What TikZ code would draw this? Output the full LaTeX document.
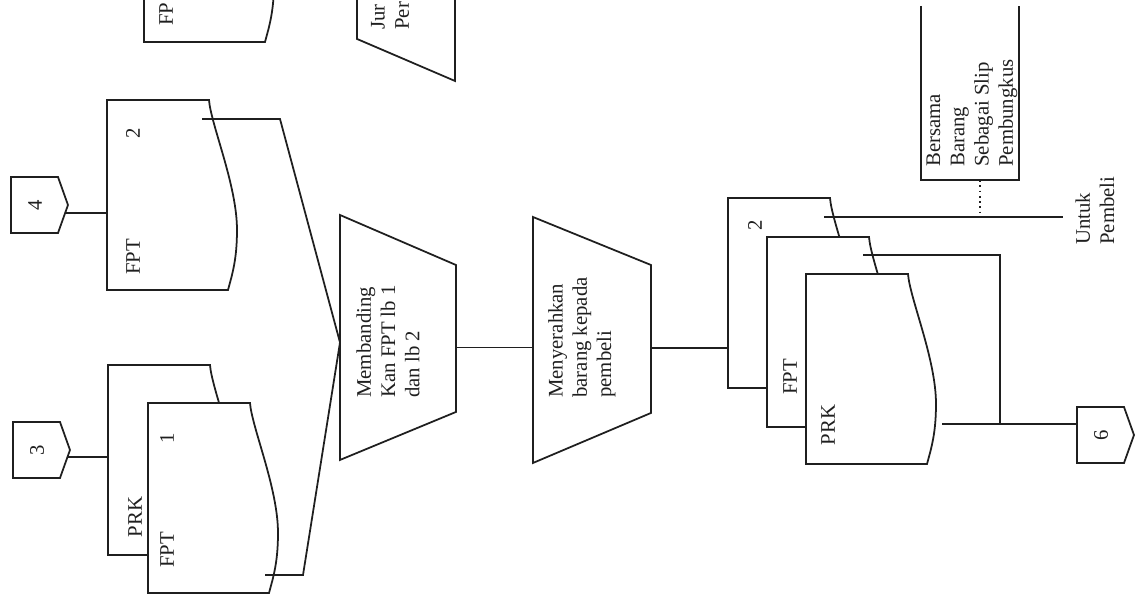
\documentclass[tikz,border=0pt]{standalone}
\usepackage{fontspec}
\setmainfont{Liberation Serif}
\usetikzlibrary{calc}

\definecolor{ink}{gray}{0.12}

% document symbol with its wavy edge on the right
\newcommand\docsym[3]{%
  \node[frame, minimum width=2.6cm, minimum height=3.8cm, anchor=north west] (#1) at (#2,#3) {};
  \draw[line, fill=white] (#1.north west) -- ($(#1.north west)+(102,0)$)
    .. controls ($(#1.north west)+(104,25)$) and ($(#1.north west)+(130,85)$) .. ($(#1.north west)+(130,130)$)
    .. controls ($(#1.north west)+(130,160)$) and ($(#1.north west)+(125,175)$) .. ($(#1.north west)+(121,190)$)
    -- (#1.south west) -- cycle;}

% off-page connector pointing right
\newcommand\offpage[4]{%
  \node[frame, minimum width=1.14cm, minimum height=1.12cm, anchor=north west] (#1) at (#2,#3) {};
  \draw[line] (#1.north west) -- ($(#1.north west)+(47,0)$) -- (#1.east)
    -- ($(#1.south west)+(47,0)$) -- (#1.south west) -- cycle;
  \node[lbl] (#1-t) at ($(#1.west)+(24,0)$) {#4};}

% manual operation, long side on the left
\newcommand\manop[3]{%
  \draw[line] (#1.north west) -- ($(#1.north east)+(0,#2)$) -- ($(#1.south east)+(0,-#3)$)
    -- (#1.south west) -- cycle;}

\begin{document}
\begin{tikzpicture}[x=0.02cm, y=-0.02cm,
  line/.style={draw=ink, line width=1pt},
  frame/.style={inner sep=0pt, outer sep=0pt, draw=none},
  lbl/.style={rotate=90, inner sep=0pt, text=ink, font=\fontsize{11.8}{13.8}\selectfont},
  blk/.style={lbl, align=left, anchor=west}]

\useasboundingbox (0,0) rectangle (1140,598);
\clip (0,0) rectangle (1140,598);
\fill[white] (0,0) rectangle (1140,598);

% ---- top row, partly outside ----
\docsym{dtop}{144}{-148}
\node[lbl, anchor=west] (dtop-t) at (166,26) {FP};
\node[frame, minimum width=1.96cm, minimum height=4.62cm, anchor=north west] (jt) at (357,-150) {};
\draw[line] ($(jt.north west)+(0,42)$) -- ($(jt.south west)+(0,-42)$) -- (jt.south east) -- (jt.north east) -- cycle;
\node[blk] (jt-t) at (390,30) {Jur\\Per};

% ---- inputs ----
\offpage{p4}{11}{177}{4}
\offpage{p3}{13}{422}{3}

\docsym{dFPTb}{107}{100}
\node[lbl] (dFPTb-n) at ($(dFPTb.north west)+(26,33)$) {2};
\node[lbl] (dFPTb-t) at ($(dFPTb.north west)+(26,157)$) {FPT};

\docsym{dPRKa}{108}{365}
\node[lbl] (dPRKa-t) at ($(dPRKa.north west)+(27,152)$) {PRK};
\docsym{dFPTa}{148}{403}
\node[lbl] (dFPTa-n) at ($(dFPTa.north west)+(19,35)$) {1};
\node[lbl] (dFPTa-t) at ($(dFPTa.north west)+(19,147)$) {FPT};

% ---- processes ----
\node[frame, minimum width=2.32cm, minimum height=4.9cm, anchor=north west] (t1) at (340,215) {};
\manop{t1}{50}{48}
\node[blk] (t1-t) at (388,398) {Membanding\\Kan FPT lb 1\\dan lb 2};

\node[frame, minimum width=2.36cm, minimum height=4.92cm, anchor=north west] (t2) at (533,217) {};
\manop{t2}{48}{50}
\node[blk] (t2-t) at (582,398) {Menyerahkan\\barang kepada\\pembeli};

% ---- output stack ----
\docsym{s2}{728}{198}
\node[lbl] (s2-n) at ($(s2.north west)+(27,27)$) {2};
\docsym{sFPT}{767}{237}
\node[lbl] (sFPT-t) at ($(sFPT.north west)+(23,140)$) {FPT};
\docsym{sPRK}{806}{274}
\node[lbl] (sPRK-t) at ($(sPRK.north west)+(22,151)$) {PRK};

\offpage{p6}{1077}{407}{6}

% annotation bracket
\node[frame, minimum width=1.96cm, minimum height=3.48cm, anchor=north west] (note) at (921,6) {};
\draw[line] (note.north west) -- (note.south west) -- (note.south east) -- (note.north east);
\node[blk] (note-t) at (972,167) {Bersama\\Barang\\Sebagai Slip\\Pembungkus};

\node[blk] (untuk) at (1095,245) {Untuk\\Pembeli};

% ---- connectors ----
\coordinate (p4o) at ($(p4.east)+(-3,8)$);
\draw[line] (p4o) -- (p4o -| dFPTb.west);
\coordinate (p3o) at ($(p3.east)+(-3,7)$);
\draw[line] (p3o) -- (p3o -| dPRKa.west);

\coordinate (t1in) at ($(t1.west)+(0,5)$);
\draw[line] ($(dFPTb.north west)+(95,19)$) -- ++(78,0) -- (t1in);
\draw[line] ($(dFPTa.north west)+(117,172)$) -- ++(38,0) -- (t1in);

\coordinate (m1) at ($(t1.east)+(0,10)$);
\draw[line] (m1) -- (m1 -| t2.west);
\coordinate (m2) at ($(t2.east)+(0,8)$);
\draw[line] (m2) -- (m2 -| s2.west);

\coordinate (s2o) at ($(s2.north west)+(96,19)$);
\coordinate (uend) at ($(untuk.north)+(-12,-28)$);
\draw[line] (s2o) -- (s2o -| uend);
\coordinate (nd) at ($(note.south)+(10,0)$);
\draw[line, dotted, line width=0.7pt] (nd) -- (nd |- s2o);

\coordinate (sPRKo) at ($(sPRK.north west)+(136,150)$);
\draw[line] (sPRKo) -- (sPRKo -| p6.west);
\coordinate (sFPTo) at ($(sFPT.north west)+(96,18)$);
\coordinate (jn) at ($(sFPTo)+(137,0)$);
\draw[line] (sFPTo) -- (jn) -- (jn |- sPRKo);

\end{tikzpicture}
\end{document}
